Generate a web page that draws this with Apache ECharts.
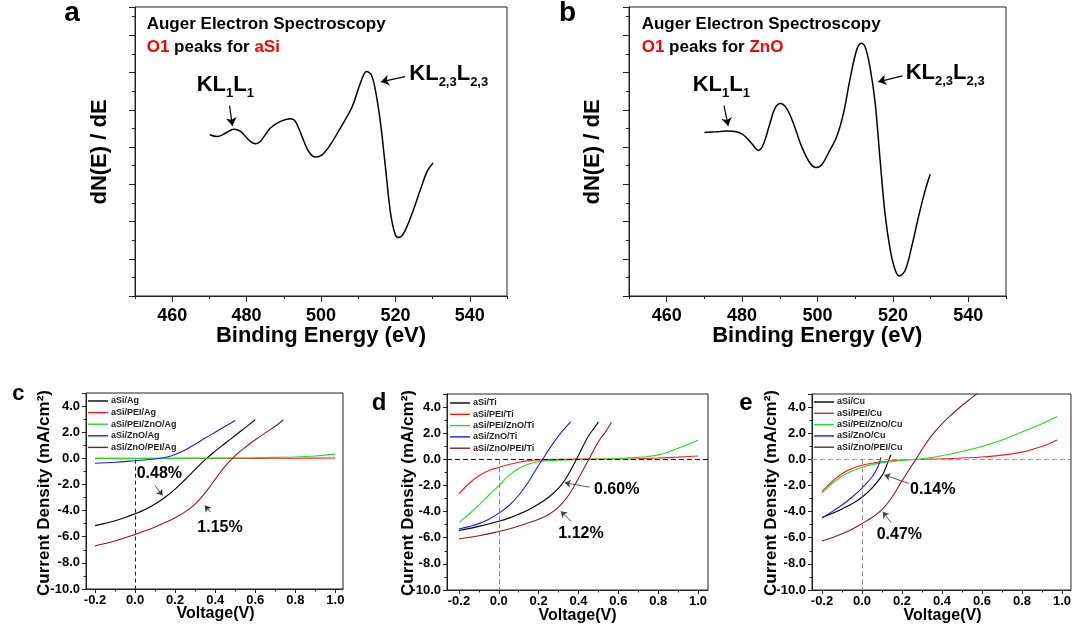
<!DOCTYPE html>
<html><head><meta charset="utf-8">
<script src="https://cdn.jsdelivr.net/npm/echarts@6/dist/echarts.min.js"></script>
<style>html,body{margin:0;padding:0;background:#fff}#c{width:1074px;height:630px}</style>
</head><body><div id="c"></div>
<script>
// ---------- data ----------
const energyTicks = [460, 480, 500, 520, 540];
const energyMinor = [450, 470, 490, 510, 530, 550];
const voltageTicks = [-0.2, 0, 0.2, 0.4, 0.6, 0.8, 1.0];
const voltageMinor = [-0.1, 0.1, 0.3, 0.5, 0.7, 0.9];

const auger_aSi = [[470.1,4.33],[472.1,4.28],[474.3,4.37],[476.6,4.48],[478.4,4.42],[480.6,4.19],[482.4,4.09],[483.7,4.15],[486.4,4.51],[489.1,4.69],[491.8,4.76],[493.1,4.69],[494.9,4.28],[496.7,3.88],[498.5,3.73],[500.3,3.79],[502.5,4.06],[505.2,4.51],[508.4,5.09],[510.6,5.72],[512.2,6.03],[513.5,5.94],[514.6,5.54],[516.0,4.64],[517.3,3.48],[518.7,2.22],[520.0,1.64],[520.9,1.57],[522.2,1.68],[524.5,2.22],[526.7,2.85],[528.5,3.34],[530.1,3.57]];
const auger_ZnO = [[470.0,4.39],[473.2,4.41],[475.9,4.43],[478.5,4.41],[480.3,4.33],[482.5,4.10],[484.3,3.91],[485.6,4.06],[487.4,4.64],[488.7,5.04],[490.2,5.17],[491.8,5.04],[493.6,4.64],[495.8,4.01],[498.0,3.57],[499.6,3.45],[501.1,3.52],[502.9,3.84],[505.1,4.28],[506.9,4.91],[508.6,5.81],[510.4,6.61],[511.6,6.79],[512.6,6.70],[513.9,6.16],[515.3,5.18],[516.6,3.66],[517.9,2.22],[519.3,1.24],[520.6,0.70],[521.7,0.54],[523.3,0.70],[525.0,1.33],[526.8,2.13],[528.6,2.85],[529.9,3.27]];

const namesAg = ['aSi/Ag','aSi/PEI/Ag','aSi/PEI/ZnO/Ag','aSi/ZnO/Ag','aSi/ZnO/PEI/Ag'];
const ag_aSi = [[-0.2,-5.15],[-0.15,-4.98],[-0.1,-4.78],[-0.05,-4.53],[0,-4.25],[0.05,-3.92],[0.1,-3.5],[0.15,-2.98],[0.2,-2.35],[0.25,-1.62],[0.3,-0.85],[0.35,-0.1],[0.4,0.55],[0.45,1.15],[0.5,1.75],[0.55,2.35],[0.6,2.95]];
const ag_PEI = [[-0.2,0],[0,0],[0.3,0],[0.6,0],[0.8,0.01],[1.0,0.02]];
const ag_PEI_ZnO = [[-0.2,-0.03],[0,-0.02],[0.2,0],[0.4,0.01],[0.6,0.04],[0.7,0.07],[0.8,0.1],[0.9,0.18],[1.0,0.32]];
const ag_ZnO = [[-0.2,-0.38],[-0.1,-0.3],[0,-0.18],[0.1,-0.05],[0.15,0.07],[0.2,0.3],[0.25,0.64],[0.3,1.08],[0.35,1.55],[0.4,2.0],[0.45,2.45],[0.5,2.9]];
const ag_ZnO_PEI = [[-0.2,-6.7],[-0.15,-6.52],[-0.1,-6.32],[-0.05,-6.08],[0,-5.82],[0.05,-5.55],[0.1,-5.25],[0.15,-4.92],[0.2,-4.55],[0.25,-4.1],[0.3,-3.5],[0.35,-2.65],[0.4,-1.6],[0.45,-0.6],[0.5,0.2],[0.55,0.85],[0.6,1.42],[0.65,1.95],[0.7,2.45],[0.74,2.95]];

const namesTi = ['aSi/Ti','aSi/PEI/Ti','aSi/PEI/ZnO/Ti','aSi/ZnO/Ti','aSi/ZnO/PEI/Ti'];
const ti_aSi = [[-0.2,-5.44],[-0.1,-5.13],[0,-4.74],[0.05,-4.5],[0.1,-4.2],[0.15,-3.85],[0.2,-3.42],[0.25,-2.9],[0.3,-2.2],[0.33,-1.62],[0.36,-0.85],[0.39,0],[0.42,0.92],[0.45,1.78],[0.48,2.42],[0.5,2.87]];
const ti_PEI = [[-0.2,-2.64],[-0.15,-1.85],[-0.1,-1.25],[-0.05,-0.85],[0,-0.62],[0.05,-0.4],[0.1,-0.22],[0.15,-0.1],[0.2,-0.05],[0.3,0],[0.5,0.02],[0.7,0.05],[0.8,0.1],[0.9,0.17],[1.0,0.26]];
const ti_PEI_ZnO = [[-0.2,-4.82],[-0.15,-4.2],[-0.1,-3.5],[-0.05,-2.75],[0,-2.02],[0.05,-1.25],[0.1,-0.7],[0.15,-0.36],[0.2,-0.18],[0.25,-0.1],[0.3,-0.06],[0.4,-0.02],[0.5,0.01],[0.6,0.06],[0.7,0.15],[0.75,0.22],[0.8,0.34],[0.85,0.55],[0.9,0.85],[0.95,1.16],[1.0,1.46]];
const ti_ZnO = [[-0.2,-5.33],[-0.15,-5.15],[-0.1,-4.92],[-0.05,-4.58],[0,-4.12],[0.05,-3.55],[0.1,-2.75],[0.15,-1.7],[0.2,-0.45],[0.22,0],[0.25,0.72],[0.3,1.8],[0.36,2.87]];
const ti_ZnO_PEI = [[-0.2,-6.08],[-0.1,-5.85],[0,-5.52],[0.05,-5.33],[0.1,-5.1],[0.15,-4.85],[0.2,-4.58],[0.25,-4.22],[0.3,-3.65],[0.35,-2.75],[0.4,-1.45],[0.45,-0.05],[0.5,1.35],[0.54,2.2],[0.565,2.82]];

const namesCu = ['aSi/Cu','aSi/PEI/Cu','aSi/PEI/ZnO/Cu','aSi/ZnO/Cu','aSi/ZnO/PEI/Cu'];
const cu_aSi = [[-0.2,-4.45],[-0.15,-4.15],[-0.1,-3.8],[-0.05,-3.4],[0,-2.9],[0.05,-2.2],[0.1,-1.25],[0.12,-0.6],[0.135,0],[0.145,0.35]];
const cu_PEI = [[-0.2,-2.47],[-0.15,-1.7],[-0.1,-1.1],[-0.05,-0.7],[0,-0.45],[0.05,-0.3],[0.1,-0.18],[0.2,-0.05],[0.3,0],[0.4,0.04],[0.5,0.1],[0.6,0.18],[0.7,0.32],[0.8,0.55],[0.86,0.8],[0.92,1.1],[0.975,1.48]];
const cu_PEI_ZnO = [[-0.2,-2.55],[-0.15,-1.85],[-0.1,-1.3],[-0.05,-0.9],[0,-0.6],[0.05,-0.4],[0.1,-0.25],[0.2,-0.08],[0.3,0.05],[0.4,0.28],[0.5,0.6],[0.6,0.98],[0.7,1.48],[0.8,2.1],[0.9,2.72],[0.975,3.27]];
const cu_ZnO = [[-0.2,-4.5],[-0.15,-4.0],[-0.1,-3.5],[-0.05,-2.9],[0,-2.2],[0.05,-1.35],[0.08,-0.55],[0.095,0.15]];
const cu_ZnO_PEI = [[-0.2,-6.25],[-0.15,-6.0],[-0.1,-5.7],[-0.05,-5.35],[0,-4.92],[0.05,-4.45],[0.1,-3.85],[0.15,-2.9],[0.2,-1.65],[0.25,-0.45],[0.27,0],[0.3,0.75],[0.35,1.85],[0.4,2.72],[0.45,3.45],[0.5,4.12],[0.55,4.72],[0.6,5.3]];

// ---------- style ----------
const F = "'Liberation Sans', Arial, Helvetica, sans-serif";
const AX = '#222';
const COLORS = ['#000000', '#ff1a1a', '#1ee01e', '#1a1aff', '#8b1c1c'];

function energyAxes(g) {
  return [
    {type:'value', gridIndex:g, min:450, max:550,
     axisLine:{onZero:false, lineStyle:{color:AX, width:1}},
     axisTick:{customValues:energyTicks, length:6, lineStyle:{color:AX}},
     axisLabel:{customValues:energyTicks, fontFamily:F, fontSize:18, fontWeight:'bold', color:'#000', margin:11},
     splitLine:{show:false}},
    {type:'value', gridIndex:g, min:450, max:550, position:'bottom',
     axisLine:{show:false, onZero:false},
     axisTick:{customValues:energyMinor, length:3, lineStyle:{color:AX}},
     axisLabel:{show:false}, splitLine:{show:false}}
  ];
}
function voltAxes(g, min, max) {
  return [
    {type:'value', gridIndex:g, min:min, max:max,
     axisLine:{onZero:false, lineStyle:{color:AX, width:1}},
     axisTick:{customValues:voltageTicks, length:4, lineStyle:{color:AX}},
     axisLabel:{customValues:voltageTicks, formatter:v => v.toFixed(1), fontFamily:F, fontSize:13, fontWeight:'bold', color:'#000', margin:5},
     splitLine:{show:false}},
    {type:'value', gridIndex:g, min:min, max:max, position:'bottom',
     axisLine:{show:false, onZero:false},
     axisTick:{customValues:voltageMinor, length:2.5, lineStyle:{color:AX}},
     axisLabel:{show:false}, splitLine:{show:false}}
  ];
}
function augerY(g) {
  return {type:'value', gridIndex:g, min:0, max:7.76, interval:1,
    axisLine:{onZero:false, lineStyle:{color:AX}},
    axisTick:{length:6, lineStyle:{color:AX}},
    minorTick:{show:true, splitNumber:2, length:3, lineStyle:{color:AX}},
    axisLabel:{show:false}, splitLine:{show:false}, minorSplitLine:{show:false}};
}
function jY(g) {
  return {type:'value', gridIndex:g, min:-10, max:5, interval:2,
    axisLine:{onZero:false, lineStyle:{color:AX}},
    axisTick:{length:4, lineStyle:{color:AX}},
    minorTick:{show:true, splitNumber:2, length:2.5, lineStyle:{color:AX}},
    axisLabel:{formatter:v => (v > 4.5 ? '' : v.toFixed(1)), fontFamily:F, fontSize:13, fontWeight:'bold', color:'#000', margin:6},
    splitLine:{show:false}, minorSplitLine:{show:false}};
}

function arrowLines(list, color, width, size) {
  return {silent:true, symbol:['none','arrow'], symbolSize:size, label:{show:false},
    lineStyle:{color:color, width:width, type:'solid'}, emphasis:{disabled:true},
    data: list.map(a => [{coord:a[0]}, {coord:a[1]}])};
}

function jvSeries(g, names, datas, extraMarks) {
  return datas.map((d, i) => {
    const s = {type:'line', name:names[i], xAxisIndex:2*g, yAxisIndex:g, data:d,
      symbol:'none', smooth:0.4, clip:true, silent:true,
      lineStyle:{color:COLORS[i], width:1.1}, itemStyle:{color:COLORS[i]}, z: 2 + i};
    if (i === datas.length - 1 && extraMarks) s.markLine = extraMarks;
    return s;
  });
}

function dashMarks(items) {
  return {silent:true, symbol:['none','none'], label:{show:false}, emphasis:{disabled:true},
    data: items};
}

function jvLegend(names, left, top, gap) {
  return {data:names.map(n => ({name:n, icon:'rect'})), orient:'vertical', left:left, top:top,
    itemWidth:20, itemHeight:1.4, itemGap:gap, padding:0, selectedMode:false,
    textStyle:{fontFamily:F, fontSize:9, fontWeight:'bold', color:'#222', lineHeight:10, padding:[0,0,0,-2]}};
}

const seriesAll = [];
// panel a
seriesAll.push({type:'line', name:'aSi', xAxisIndex:0, yAxisIndex:0, data:auger_aSi, symbol:'none', smooth:0.35,
  silent:true, lineStyle:{color:'#000', width:1.5},
  markLine: arrowLines([[[475.4,5.11],[476.2,4.57]], [[522.6,5.89],[516.1,5.75]]], '#000', 1.2, 8)});
// panel b
seriesAll.push({type:'line', name:'ZnO', xAxisIndex:2, yAxisIndex:1, data:auger_ZnO, symbol:'none', smooth:0.35,
  silent:true, lineStyle:{color:'#000', width:1.5},
  markLine: arrowLines([[[475.2,5.11],[476.3,4.57]], [[522.5,5.91],[516.1,5.75]]], '#000', 1.2, 8)});

// panel c
const sc = jvSeries(2, namesAg, [ag_aSi, ag_PEI, ag_PEI_ZnO, ag_ZnO, ag_ZnO_PEI],
  dashMarks([[{coord:[0,-0.1], lineStyle:{color:'#222', width:1, type:[4,3]}}, {coord:[0,-10]}]]));
sc[0].markLine = arrowLines([[[0.099,-2.08],[0.1375,-2.85]], [[0.377,-4.12],[0.348,-3.61]]], '#333', 0.9, 6);
seriesAll.push(...sc);
// panel d
const sd = jvSeries(3, namesTi, [ti_aSi, ti_PEI, ti_PEI_ZnO, ti_ZnO, ti_ZnO_PEI],
  dashMarks([
    [{coord:[-0.26,0], lineStyle:{color:'#111', width:1.2, type:[5,3]}}, {coord:[1.05,0]}],
    [{coord:[0,0], lineStyle:{color:'#888', width:1, type:[5,3]}}, {coord:[0,-10]}]
  ]));
sd[0].markLine = arrowLines([[[0.456,-2.13],[0.331,-1.79]], [[0.364,-4.75],[0.311,-3.98]]], '#444', 0.9, 6);
seriesAll.push(...sd);
// panel e
const se = jvSeries(4, namesCu, [cu_aSi, cu_PEI, cu_PEI_ZnO, cu_ZnO, cu_ZnO_PEI],
  dashMarks([
    [{coord:[-0.25,0], lineStyle:{color:'#999', width:1.2, type:[5,3]}}, {coord:[1.045,0]}],
    [{coord:[0,0], lineStyle:{color:'#999', width:1, type:[5,3]}}, {coord:[0,-10]}]
  ]));
se[0].markLine = arrowLines([[[0.233,-1.84],[0.112,-1.2]], [[0.146,-4.85],[0.104,-4.01]]], '#444', 0.9, 6);
seriesAll.push(...se);

// ---------- texts ----------
function T(x, y, text, size, opt) {
  opt = opt || {};
  const st = {text:text, fontFamily:F, fontSize:size, fontWeight:'bold', fill:opt.fill || '#000',
    align:opt.align || 'left', textAlign:opt.align || 'left',
    verticalAlign:opt.va || 'middle', textVerticalAlign:opt.va || 'middle'};
  if (opt.rich) st.rich = opt.rich;
  return {type:'text', x:x, y:y, rotation:opt.rot || 0, silent:true, z:100, style:st};
}
const redRich = {r:{fill:'#ff0000', fontFamily:F, fontSize:17, fontWeight:'bold'},
                 k:{fill:'#000', fontFamily:F, fontSize:17, fontWeight:'bold'}};
const klRich = {
  m:{fill:'#000', fontFamily:F, fontSize:22, fontWeight:'bold', lineHeight:22, verticalAlign:'top'},
  s:{fill:'#000', fontFamily:F, fontSize:13, fontWeight:'bold', lineHeight:13, verticalAlign:'top', padding:[13,0,0,0]}
};
const KL11 = '{m|KL}{s|1}{m|L}{s|1}';
const KL23 = '{m|KL}{s|2,3}{m|L}{s|2,3}';

const graphics = [
  // a
  T(72, 13.5, 'a', 28, {align:'center'}),
  T(146.7, 24, 'Auger Electron Spectroscopy', 17),
  T(146.7, 47, '{r|O1}{k| peaks for }{r|aSi}', 17, {rich:redRich}),
  T(196.7, 74.3, KL11, 22, {rich:klRich, va:'top'}),
  T(409.3, 62.7, KL23, 22, {rich:klRich, va:'top'}),
  T(100, 152, 'dN(E) / dE', 22, {align:'center', rot:Math.PI/2}),
  T(321, 336, 'Binding Energy (eV)', 22, {align:'center'}),
  // b
  T(567.5, 13.5, 'b', 28, {align:'center'}),
  T(641.7, 24, 'Auger Electron Spectroscopy', 17),
  T(641.7, 47, '{r|O1}{k| peaks for }{r|ZnO}', 17, {rich:redRich}),
  T(692.7, 74.3, KL11, 22, {rich:klRich, va:'top'}),
  T(905.7, 62.3, KL23, 22, {rich:klRich, va:'top'}),
  T(593.3, 152, 'dN(E) / dE', 22, {align:'center', rot:Math.PI/2}),
  T(817.3, 336, 'Binding Energy (eV)', 22, {align:'center'}),
  // c
  T(18.3, 393.5, 'c', 22, {align:'center'}),
  T(44, 493, 'Current Density (mA/cm²)', 17, {align:'center', rot:Math.PI/2}),
  T(215.5, 614, 'Voltage(V)', 16, {align:'center'}),
  T(136.7, 473.3, '0.48%', 16),
  T(197.3, 527.3, '1.15%', 16),
  // d
  T(379, 403.8, 'd', 24, {align:'center'}),
  T(408, 493, 'Current Density (mA/cm²)', 17, {align:'center', rot:Math.PI/2}),
  T(577.5, 615.5, 'Voltage(V)', 16, {align:'center'}),
  T(594, 490, '0.60%', 16),
  T(558.3, 534, '1.12%', 16),
  // e
  T(746, 403.3, 'e', 24, {align:'center'}),
  T(771, 493, 'Current Density (mA/cm²)', 17, {align:'center', rot:Math.PI/2}),
  T(942.5, 615.5, 'Voltage(V)', 16, {align:'center'}),
  T(910, 489.3, '0.14%', 16),
  T(876.7, 535, '0.47%', 16)
];

const gridStyle = {show:true, borderColor:AX, borderWidth:1, backgroundColor:'transparent', containLabel:false};
const option = {
  animation:false,
  backgroundColor:'#fff',
  grid:[
    Object.assign({left:135, top:7, width:372, height:289}, gridStyle),
    Object.assign({left:629, top:7, width:377, height:289}, gridStyle),
    Object.assign({left:86, top:393, width:257, height:196}, gridStyle),
    Object.assign({left:447, top:394, width:261, height:196}, gridStyle),
    Object.assign({left:812, top:394, width:260, height:196}, gridStyle)
  ],
  xAxis:[].concat(energyAxes(0), energyAxes(1), voltAxes(2, -0.245, 1.038), voltAxes(3, -0.26, 1.05), voltAxes(4, -0.25, 1.045)),
  yAxis:[augerY(0), augerY(1), jY(2), jY(3), jY(4)],
  legend:[
    jvLegend(namesAg, 88, 396, 1.6),
    jvLegend(namesTi, 450, 398, 1.3),
    jvLegend(namesCu, 814, 397, 1.3)
  ],
  series:seriesAll,
  graphic:{elements:graphics}
};
const chart = echarts.init(document.getElementById('c'));
chart.setOption(option);
</script>
</body></html>
